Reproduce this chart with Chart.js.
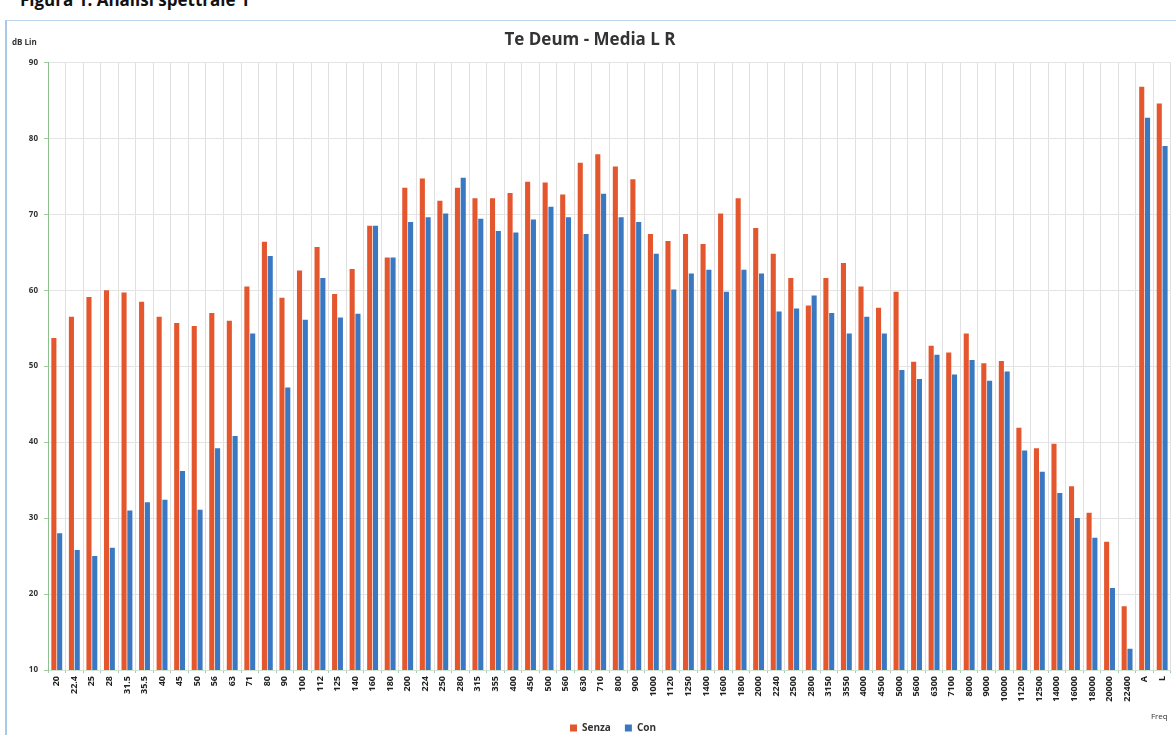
<!DOCTYPE html>
<html>
<head>
<meta charset="utf-8">
<script src="https://cdn.jsdelivr.net/npm/chart.js@4/dist/chart.umd.min.js"></script>
<style>
  html, body { margin: 0; padding: 0; background: #fff; }
  body { width: 1176px; height: 735px; position: relative; overflow: hidden; font-family: "Open Sans", sans-serif; }
  #caption { position: absolute; left: 20px; top: -12px; font-size: 17px; font-weight: bold; color: #111; }
  #frame { position: absolute; left: 5px; top: 20px; width: 1171px; height: 715px;
           border-left: 2px solid #a9c8e8; border-top: 1px solid #bcd4ec; box-sizing: border-box; }
  #wrap { position: absolute; left: 0; top: 0; width: 1176px; height: 760px; }
</style>
</head>
<body>
<div id="caption">Figura 1: Analisi spettrale 1</div>
<div id="frame"></div>
<div id="wrap"><canvas id="myChart" width="1176" height="746"></canvas></div>
<script>
// bande di frequenza (1/6 ottava) + A, L
const bands = ['20', '22.4', '25', '28', '31.5', '35.5', '40', '45', '50', '56', '63', '71',
  '80', '90', '100', '112', '125', '140', '160', '180', '200', '224', '250', '280',
  '315', '355', '400', '450', '500', '560', '630', '710', '800', '900', '1000', '1120',
  '1250', '1400', '1600', '1800', '2000', '2240', '2500', '2800', '3150', '3550', '4000', '4500',
  '5000', '5600', '6300', '7100', '8000', '9000', '10000', '11200', '12500', '14000', '16000', '18000',
  '20000', '22400', 'A', 'L'];

const senza = [53.7, 56.5, 59.1, 60.0, 59.7, 58.5, 56.5, 55.7, 55.3, 57.0, 56.0, 60.5,
  66.4, 59.0, 62.6, 65.7, 59.5, 62.8, 68.5, 64.3, 73.5, 74.7, 71.8, 73.5,
  72.1, 72.1, 72.8, 74.3, 74.2, 72.6, 76.8, 77.9, 76.3, 74.6, 67.4, 66.5,
  67.4, 66.1, 70.1, 72.1, 68.2, 64.8, 61.6, 58.0, 61.6, 63.6, 60.5, 57.7,
  59.8, 50.6, 52.7, 51.8, 54.3, 50.4, 50.7, 41.9, 39.2, 39.8, 34.2, 30.7,
  26.9, 18.4, 86.8, 84.6];

const con = [28.0, 25.8, 25.0, 26.1, 31.0, 32.1, 32.4, 36.2, 31.1, 39.2, 40.8, 54.3,
  64.5, 47.2, 56.1, 61.6, 56.4, 56.9, 68.5, 64.3, 69.0, 69.6, 70.1, 74.8,
  69.4, 67.8, 67.6, 69.3, 71.0, 69.6, 67.4, 72.7, 69.6, 69.0, 64.8, 60.1,
  62.2, 62.7, 59.8, 62.7, 62.2, 57.2, 57.6, 59.3, 57.0, 54.3, 56.5, 54.3,
  49.5, 48.3, 51.5, 48.9, 50.8, 48.1, 49.3, 38.9, 36.1, 33.3, 30.0, 27.4,
  20.8, 12.8, 82.7, 79.0];

const yMin = 10;
const yMax = 90;

// scritte extra: unita' asse y e "Freq"
const extraText = {
  id: 'extraText',
  afterLayout(chart) {
    // legenda centrata sull'area del grafico, un po' piu' in alto
    const lg = chart.legend;
    lg.left += 23; lg.right += 23;
    lg.top -= 3; lg.bottom -= 3;
  },
  afterDraw(chart) {
    const ctx = chart.ctx;
    const a = chart.chartArea;
    ctx.save();
    ctx.fillStyle = '#333';
    ctx.font = 'bold 8px "Open Sans", sans-serif';
    ctx.textAlign = 'left';
    ctx.textBaseline = 'middle';
    ctx.fillText('dB Lin', a.left - 36, a.top - 20);
    ctx.font = '8px "Open Sans", sans-serif';
    ctx.fillText('Freq', a.right - 20, 717);
    ctx.restore();
  }
};

new Chart('myChart', {
  type: 'bar',
  data: {
    labels: bands,
    datasets: [{
      label: 'Senza',
      data: senza,
      backgroundColor: '#e4572e',
      borderWidth: 0
    }, {
      label: 'Con',
      data: con,
      backgroundColor: '#3a78c2',
      borderWidth: 0
    }]
  },
  options: {
    responsive: false,
    animation: false,
    devicePixelRatio: 1,
    layout: { padding: { top: 26, left: 8, right: 4, bottom: 0 } },
    datasets: { bar: { categoryPercentage: 0.66, barPercentage: 0.88 } },
    plugins: {
      title: {
        display: true,
        text: 'Te Deum - Media L R',
        color: '#333',
        font: { size: 17, weight: 'bold', family: '"Open Sans", sans-serif' },
        padding: { top: 4, bottom: 12 }
      },
      legend: {
        position: 'bottom',
        labels: {
          boxWidth: 7,
          boxHeight: 7,
          padding: 14,
          color: '#333',
          font: { size: 10, weight: 'bold', family: '"Open Sans", sans-serif' }
        }
      },
      tooltip: { enabled: false }
    },
    scales: {
      x: {
        grid: { color: '#e0e0e0', drawTicks: true, tickLength: 3, tickColor: '#9fcf9f' },
        border: { color: '#cfe3cf' },
        ticks: {
          autoSkip: false,
          minRotation: 90,
          maxRotation: 90,
          padding: 3,
          color: '#222',
          font: { size: 9, weight: 'bold', family: '"Open Sans", sans-serif' }
        },
        afterFit(scale) { scale.height = 42; }
      },
      y: {
        min: yMin,
        max: yMax,
        grid: { color: '#e4e4e4', tickLength: 4, tickColor: '#9fcf9f' },
        border: { color: '#8fbf8f' },
        ticks: {
          stepSize: 10,
          padding: 6,
          color: '#333',
          font: { size: 8, weight: 'bold', family: '"Open Sans", sans-serif' }
        },
        afterFit(scale) { scale.width = 40; }
      }
    }
  },
  plugins: [extraText]
});
</script>
</body>
</html>
